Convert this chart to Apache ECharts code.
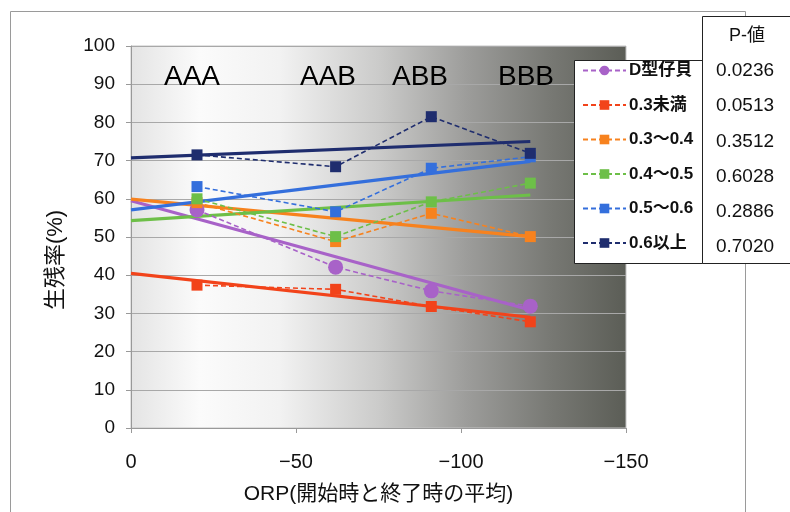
<!DOCTYPE html>
<html>
<head>
<meta charset="utf-8">
<script src="https://cdn.jsdelivr.net/npm/echarts@6/dist/echarts.min.js"></script>
<style>html,body{margin:0;padding:0;background:#fff;}#c{width:790px;height:512px;}</style>
</head>
<body>
<div id="c"></div>
<script>
// ---- data ----
const xOrp = [-20, -62, -91, -121];
const groupLabels = ['AAA', 'AAB', 'ABB', 'BBB'];
const seriesNames = ['D型仔貝', '0.3未満', '0.3～0.4', '0.4～0.5', '0.5～0.6', '0.6以上'];
const dValues   = [57.1, 42.1, 35.9, 31.9];
const lt03      = [37.4, 36.3, 31.8, 27.8];
const r0304     = [59.0, 48.8, 56.2, 50.1];
const r0405     = [60.0, 50.1, 59.2, 64.1];
const r0506     = [63.2, 56.6, 68.0, 71.0];
const ge06      = [71.5, 68.4, 81.5, 71.9];
const trendX    = [0, -121];
const trendD    = [59.5, 30.9];
const trendLt03 = [40.5, 29.0];
const trend0304 = [59.9, 50.1];
const trend0405 = [54.3, 61.0];
const trend0506 = [57.1, 69.8];
const trendGe06 = [70.7, 75.0];
const pHeader = 'P-値';
const pValues = ['0.0236', '0.0513', '0.3512', '0.6028', '0.2886', '0.7020'];
const yTicks = {min: 0, max: 100, interval: 10};
const xTicks = {min: -150, max: 0, interval: 50};

// ---- styles ----
const colors = ['#a862c8', '#f2431a', '#f7821e', '#6dbf48', '#346fdc', '#1f2d6e'];
const symbols = ['circle', 'rect', 'rect', 'rect', 'rect', 'rect'];
const symSizes = [15, 11, 11, 11, 11, 11];
const FONT = '"Liberation Sans", Arial, "Noto Sans CJK JP", sans-serif';
const valueSets = [dValues, lt03, r0304, r0405, r0506, ge06];
const trendSets = [trendD, trendLt03, trend0304, trend0405, trend0506, trendGe06];

const series = [];
trendSets.forEach((t, i) => {
  series.push({
    name: seriesNames[i] + '_trend', type: 'line', z: 2,
    data: trendX.map((x, k) => [x, t[k]]),
    symbol: 'none', silent: true,
    lineStyle: {color: colors[i], width: 3.2, type: 'solid'}
  });
});
valueSets.forEach((v, i) => {
  series.push({
    name: seriesNames[i], type: 'line', z: 3,
    data: xOrp.map((x, k) => [x, v[k]]),
    symbol: symbols[i], symbolSize: symSizes[i],
    itemStyle: {color: colors[i]},
    lineStyle: {color: colors[i], width: 1.6, type: [5, 3]}
  });
});

const labelX = [192, 328, 420, 526];
const graphics = [
  {type: 'rect', z: 0, silent: true, shape: {x: 10.5, y: 11.5, width: 735, height: 520},
   style: {fill: 'none', stroke: '#9a9a9a', lineWidth: 1}},
  {type: 'rect', z: 50, silent: true, shape: {x: 574.5, y: 60.5, width: 128, height: 203},
   style: {fill: '#fff', stroke: '#222', lineWidth: 1}},
  {type: 'rect', z: 50, silent: true, shape: {x: 702.5, y: 16.5, width: 100, height: 247},
   style: {fill: '#fff', stroke: '#222', lineWidth: 1}},
  {type: 'text', z: 60, silent: true, x: 747, y: 36,
   style: {text: pHeader, fill: '#111', font: '18px ' + FONT, textAlign: 'center', textVerticalAlign: 'middle'}}
];
pValues.forEach((p, i) => {
  graphics.push({type: 'text', z: 60, silent: true, x: 745, y: 71 + i * 35.2,
    style: {text: p, fill: '#111', font: '19px ' + FONT, textAlign: 'center', textVerticalAlign: 'middle'}});
});
groupLabels.forEach((g, i) => {
  graphics.push({type: 'text', z: 40, silent: true, x: labelX[i], y: 77,
    style: {text: g, fill: '#000', font: '28px ' + FONT, textAlign: 'center', textVerticalAlign: 'middle'}});
});

const chart = echarts.init(document.getElementById('c'), null, {renderer: 'canvas'});
chart.setOption({
  animation: false,
  backgroundColor: '#fff',
  grid: {
    left: 131, right: 164, top: 46, bottom: 84, show: true,
    borderColor: '#c4c4c4', borderWidth: 1,
    backgroundColor: {type: 'linear', x: 0, y: 0, x2: 1, y2: 0, colorStops: [
      {offset: 0, color: '#e4e4e4'}, {offset: 0.14, color: '#fbfbfb'}, {offset: 0.3, color: '#f2f2f2'},
      {offset: 0.5, color: '#cbcbca'}, {offset: 0.68, color: '#9c9c9a'}, {offset: 0.85, color: '#777873'},
      {offset: 1, color: '#5b5d56'}]}
  },
  xAxis: {
    type: 'value', min: xTicks.min, max: xTicks.max, interval: xTicks.interval, inverse: true,
    name: 'ORP(開始時と終了時の平均)', nameLocation: 'middle', nameGap: 56,
    nameTextStyle: {fontSize: 21, color: '#111', fontFamily: FONT},
    axisLine: {show: true, lineStyle: {color: '#999', width: 1}},
    axisTick: {show: true, length: 5, lineStyle: {color: '#999'}},
    splitLine: {show: false},
    axisLabel: {fontSize: 20, color: '#111', fontFamily: FONT, margin: 24,
      formatter: v => String(v).replace('-', '−')}
  },
  yAxis: {
    type: 'value', min: yTicks.min, max: yTicks.max, interval: yTicks.interval,
    name: '生残率(%)', nameLocation: 'middle', nameGap: 64, nameRotate: 90,
    nameTextStyle: {fontSize: 22, color: '#111', fontFamily: FONT, padding: [0, 46, 0, 0]},
    axisLine: {show: true, lineStyle: {color: '#999', width: 1}},
    axisTick: {show: true, length: 5, lineStyle: {color: '#999'}},
    splitLine: {show: true, lineStyle: {color: '#a8a8a8', width: 1}},
    axisLabel: {fontSize: 19, color: '#111', fontFamily: FONT, margin: 16}
  },
  legend: {
    data: seriesNames, orient: 'vertical', left: 582, top: 62, z: 70, padding: 0,
    itemWidth: 43, itemHeight: 12, itemGap: 17.5, selectedMode: false,
    textStyle: {fontSize: 17, fontWeight: 'bold', color: '#111', fontFamily: FONT, padding: [0, 0, 0, -2]}
  },
  graphic: graphics,
  series: series
});
</script>
</body>
</html>
